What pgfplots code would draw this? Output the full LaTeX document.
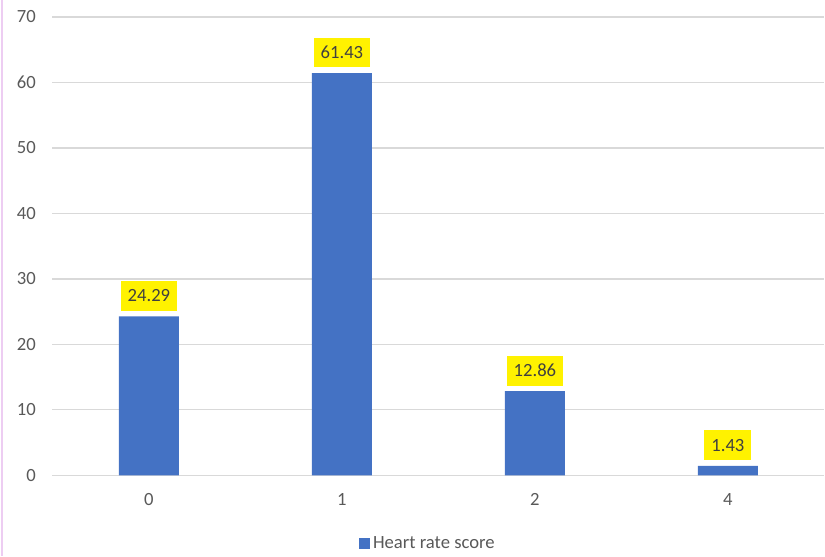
\documentclass[border=0pt]{standalone}
\usepackage{pgfplots}
\pgfplotsset{compat=1.18}
\usepackage{fontspec}
\setmainfont{Carlito}
\definecolor{barblue}{HTML}{4472C4}
\definecolor{gridgray}{HTML}{D9D9D9}
\definecolor{ticktext}{HTML}{595959}
\definecolor{labeltext}{HTML}{404040}
\definecolor{framepink}{HTML}{EDCDF2}
\begin{document}
\begin{tikzpicture}
\begin{axis}[
    name=ax,
    scale only axis,
    width=579.75pt, height=344.25pt,
    xmin=-0.5, xmax=3.5,
    ymin=0, ymax=70,
    ytick={0,10,...,70},
    xtick={0,1,2,3},
    xticklabels={0,1,2,4},
    ymajorgrids,
    grid style={gridgray, line width=0.9pt},
    axis line style={draw=none},
    major tick length=0pt,
    tick label style={font=\fontsize{14}{16}\selectfont, text=ticktext},
    /pgf/number format/assume math mode=true,
    yticklabel style={xshift=-9pt},
    xticklabel style={yshift=-10pt},
    ybar, bar width=45pt,
    nodes near coords,
    nodes near coords style={/pgf/number format/fixed, /pgf/number format/precision=2, /pgf/number format/fixed zerofill},
    every node near coord/.style={anchor=south, yshift=4pt, fill=yellow,
        text=labeltext, font=\fontsize{14}{16}\selectfont, inner xsep=5.25pt,
        minimum height=22.5pt},
    legend style={at={(0.487,-0.148)}, anchor=center, draw=none,
        font=\fontsize{14}{16}\selectfont, text=ticktext,
        legend cell align=left, inner sep=0pt},
    legend image code/.code={\fill[barblue] (0pt,-4.1pt) rectangle (8.2pt,4.1pt);},
    clip=false,
]
\addplot[fill=barblue, draw=none] coordinates {(0,24.29) (1,61.43) (2,12.86) (3,1.43)};
\addlegendentry{Heart rate score}
\end{axis}
\useasboundingbox ([xshift=-39.375pt,yshift=-60.75pt]ax.south west) rectangle ([yshift=12.75pt]ax.north east);
\draw[framepink, line width=1.5pt] ([xshift=-37.5pt,yshift=-60.75pt]ax.south west) -- ([xshift=-37.5pt,yshift=12.75pt]ax.north west);
\end{tikzpicture}
\end{document}
